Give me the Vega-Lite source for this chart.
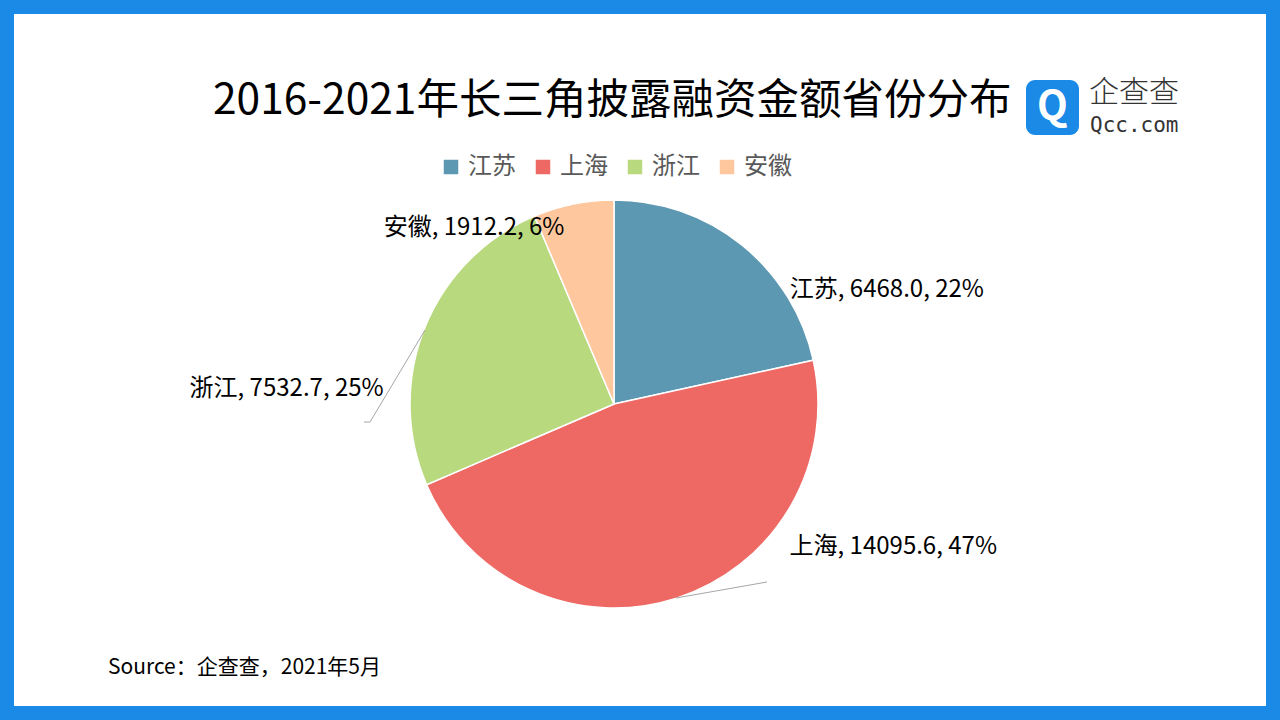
{
  "$schema": "https://vega.github.io/schema/vega-lite/v6.json",
  "width": 1280,
  "height": 720,
  "autosize": {"type": "fit", "contains": "padding"},
  "padding": 14,
  "background": "#1a8ae6",
  "config": {
    "view": {"stroke": null},
    "font": "Noto Sans CJK SC"
  },
  "title": {
    "text": "2016-2021年长三角披露融资金额省份分布",
    "anchor": "start",
    "frame": "group",
    "align": "left",
    "dx": 199,
    "offset": -142,
    "fontSize": 42.5,
    "fontWeight": "normal",
    "color": "#000000",
    "font": "Noto Sans CJK SC",
    "baseline": "alphabetic"
  },
  "data": {
    "values": [
      {"province": "江苏", "amount": 6468.0},
      {"province": "上海", "amount": 14095.6},
      {"province": "浙江", "amount": 7532.7},
      {"province": "安徽", "amount": 1912.2}
    ]
  },
  "transform": [
    {"window": [{"op": "row_number", "as": "rank"}]},
    {"joinaggregate": [{"op": "sum", "field": "amount", "as": "total"}]},
    {"calculate": "datum.province + ', ' + format(datum.amount, '.1f') + ', ' + format(datum.amount / datum.total, '.0%')", "as": "label"}
  ],
  "layer": [
    {
      "data": {"values": [{"panel": "background"}]},
      "mark": {"type": "rect", "x": 0, "y": 0, "x2": "width", "y2": "height", "fill": "#ffffff", "strokeWidth": 0},
      "encoding": {}
    },
    {
      "mark": {"type": "arc", "outerRadius": 204, "x": 600, "y": 390, "stroke": "#ffffff", "strokeWidth": 1.5},
      "encoding": {
        "theta": {"field": "amount", "type": "quantitative", "stack": true},
        "order": {"field": "rank", "type": "quantitative"},
        "color": {
          "field": "province",
          "type": "nominal",
          "sort": null,
          "scale": {"domain": ["江苏", "上海", "浙江", "安徽"], "range": ["#5d98b3", "#ee6964", "#b9d97e", "#fec79d"]},
          "legend": {
            "orient": "none",
            "legendX": 425,
            "legendY": 141,
            "direction": "horizontal",
            "columns": 4,
            "title": null,
            "symbolType": "square",
            "symbolSize": 210,
            "symbolStrokeWidth": 0,
            "symbolOpacity": 1,
            "labelFontSize": 24,
            "labelColor": "#595959",
            "labelFont": "Noto Sans CJK SC",
            "labelOffset": 5,
            "columnPadding": 15,
            "padding": 0
          }
        }
      }
    },
    {
      "data": {"values": [{"leader": "上海"}]},
      "mark": {"type": "rule", "stroke": "#a6a6a6", "strokeWidth": 1},
      "encoding": {"x": {"value": 662}, "y": {"value": 584}, "x2": {"value": 753}, "y2": {"value": 568}}
    },
    {
      "data": {"values": [{"leader": "浙江"}]},
      "mark": {"type": "rule", "stroke": "#a6a6a6", "strokeWidth": 1},
      "encoding": {"x": {"value": 411}, "y": {"value": 316}, "x2": {"value": 356}, "y2": {"value": 408}}
    },
    {
      "data": {"values": [{"leader": "浙江"}]},
      "mark": {"type": "rule", "stroke": "#a6a6a6", "strokeWidth": 1},
      "encoding": {"x": {"value": 356}, "y": {"value": 408}, "x2": {"value": 350}, "y2": {"value": 408}}
    },
    {
      "mark": {"type": "text", "x": 600, "y": 390, "radius": 204, "align": "left", "baseline": "middle", "dx": 48, "dy": 45, "fontSize": 24, "color": "#000000", "font": "Noto Sans CJK SC"},
      "encoding": {
        "theta": {"field": "amount", "type": "quantitative", "stack": true},
        "order": {"field": "rank", "type": "quantitative"},
        "text": {"condition": {"test": "datum.province === '江苏'", "field": "label", "type": "nominal"}, "value": ""}
      }
    },
    {
      "mark": {"type": "text", "x": 600, "y": 390, "radius": 204, "align": "left", "baseline": "middle", "dx": 113, "dy": -51, "fontSize": 24, "color": "#000000", "font": "Noto Sans CJK SC"},
      "encoding": {
        "theta": {"field": "amount", "type": "quantitative", "stack": true},
        "order": {"field": "rank", "type": "quantitative"},
        "text": {"condition": {"test": "datum.province === '上海'", "field": "label", "type": "nominal"}, "value": ""}
      }
    },
    {
      "mark": {"type": "text", "x": 600, "y": 390, "radius": 204, "align": "right", "baseline": "middle", "dx": -41, "dy": 61, "fontSize": 24, "color": "#000000", "font": "Noto Sans CJK SC"},
      "encoding": {
        "theta": {"field": "amount", "type": "quantitative", "stack": true},
        "order": {"field": "rank", "type": "quantitative"},
        "text": {"condition": {"test": "datum.province === '浙江'", "field": "label", "type": "nominal"}, "value": ""}
      }
    },
    {
      "mark": {"type": "text", "x": 600, "y": 390, "radius": 204, "align": "right", "baseline": "middle", "dx": -9, "dy": 24, "fontSize": 24, "color": "#000000", "font": "Noto Sans CJK SC"},
      "encoding": {
        "theta": {"field": "amount", "type": "quantitative", "stack": true},
        "order": {"field": "rank", "type": "quantitative"},
        "text": {"condition": {"test": "datum.province === '安徽'", "field": "label", "type": "nominal"}, "value": ""}
      }
    },
    {
      "data": {"values": [{"note": "Source：企查查，2021年5月"}]},
      "mark": {"type": "text", "x": 94, "y": 660, "align": "left", "baseline": "alphabetic", "fontSize": 21, "color": "#000000", "font": "Noto Sans CJK SC"},
      "encoding": {"text": {"field": "note", "type": "nominal"}}
    },
    {
      "data": {"values": [{"brand": "企查查"}]},
      "mark": {"type": "rect", "x": 1012, "y": 66, "x2": 1065, "y2": 121, "cornerRadius": 9, "color": "#1a8ae6"},
      "encoding": {}
    },
    {
      "data": {"values": [{"icon": "Q"}]},
      "mark": {"type": "text", "x": 1038.5, "y": 94, "align": "center", "baseline": "middle", "fontSize": 40, "fontWeight": "bold", "color": "#ffffff", "font": "Noto Sans CJK SC"},
      "encoding": {"text": {"field": "icon", "type": "nominal"}}
    },
    {
      "data": {"values": [{"brand": "企查查"}]},
      "mark": {"type": "text", "x": 1075, "y": 79, "align": "left", "baseline": "middle", "fontSize": 30, "fontWeight": 300, "color": "#333333", "font": "Noto Sans CJK SC"},
      "encoding": {"text": {"field": "brand", "type": "nominal"}}
    },
    {
      "data": {"values": [{"site": "Qcc.com"}]},
      "mark": {"type": "text", "x": 1076, "y": 112, "align": "left", "baseline": "middle", "fontSize": 21, "color": "#333333", "font": "DejaVu Sans Mono"},
      "encoding": {"text": {"field": "site", "type": "nominal"}}
    }
  ]
}
